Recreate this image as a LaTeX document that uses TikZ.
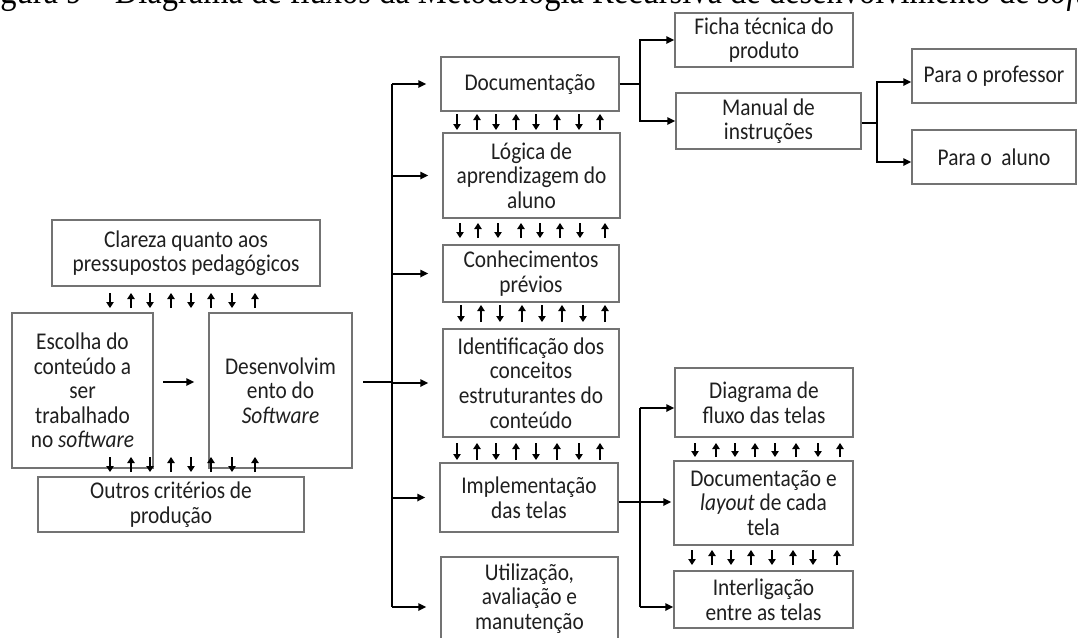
\documentclass[tikz,border=0pt]{standalone}
\usepackage{fontspec}
\setmainfont{Carlito}[FakeStretch=0.89]
\newfontfamily\capfont{Liberation Serif}[FakeStretch=0.87]
\usetikzlibrary{arrows.meta,calc}
\newcommand\arrowrow[3]{%
  \foreach \x [count=\i] in {#3} {%
    \ifodd\i \draw[tinyarrow] (\x,#1) -- (\x,#2); \else \draw[tinyarrow] (\x,#2) -- (\x,#1); \fi}}
\newcommand\bx[6]{%
  \node[box, minimum width={(#4-#2)*0.75pt}, minimum height={(#5-#3)*0.75pt}]
    (#1) at ({(#2+#4)/2},{(#3+#5)/2}) {#6};}
\begin{document}
\begin{tikzpicture}[x=0.75pt,y=-0.75pt,
  box/.style={draw=black!55, line width=1.1pt, inner sep=0pt, align=center,
    text=black!88, font=\fontsize{18}{18.4}\selectfont},
  conn/.style={line width=1.5pt, -{Triangle[length=6pt,width=5.5pt]}},
  plain/.style={line width=1.5pt},
  tinyarrow/.style={line width=1.5pt, -{Triangle[length=4.5pt,width=5.5pt]}}]
\useasboundingbox (0,0) rectangle (1078,637);
\clip (0,0) rectangle (1078,637);

% caption (cut off at the top)
\node[anchor=base west, inner sep=0pt, font=\capfont\fontsize{28}{30}\selectfont] (title) at (-27,3)
  {Figura 9 – Diagrama de fluxos da Metodologia Recursiva de desenvolvimento de \textit{software}};

% left group
\bx{clar}{52}{220}{320}{286}{Clareza quanto aos\\pressupostos pedagógicos}
\bx{esc}{12}{313}{153}{468}{Escolha do\\conteúdo a\\ser\\trabalhado\\no \textit{software}}
\bx{des}{209}{313}{352}{468}{Desenvolvim\\ento do\\\textit{Software}}
\bx{out}{38}{477}{304}{532}{Outros critérios de\\produção}

% middle column
\bx{doc}{441}{57}{619}{111}{Documentação}
\bx{log}{443}{133}{620}{218}{Lógica de\\aprendizagem do\\aluno}
\bx{con}{443}{245}{619}{302}{Conhecimentos\\prévios}
\bx{ide}{443}{329}{619}{437}{Identificação dos\\conceitos\\estruturantes do\\conteúdo}
\bx{imp}{440}{463}{618}{532}{Implementação\\das telas}
\bx{uti}{441}{557}{618}{640}{Utilização,\\avaliação e\\manutenção}

% right part
\bx{fic}{675}{13}{853}{67}{Ficha técnica do\\produto}
\bx{man}{676}{93}{861}{149}{Manual de\\instruções}
\bx{pro}{912}{49}{1076}{103}{Para o professor}
\bx{alu}{912}{130}{1076}{184}{Para o\ \ aluno}
\bx{dia}{675}{368}{853}{437}{Diagrama de\\fluxo das telas}
\bx{dl}{674}{461}{853}{545}{Documentação e\\\textit{layout} de cada\\tela}
\bx{int}{674}{571}{853}{628}{Interligação\\entre as telas}

% small two-way arrow rows
\arrowrow{293}{308}{110,131,150,171,191,211,232,255}
\arrowrow{457}{472}{110,131,150,171,191,211,232,255}
\arrowrow{114}{130}{457,477,496,516,536,557,579,600}
\arrowrow{223}{238}{460,478,498,521,540,560,580,605}
\arrowrow{305}{322}{461,481,500,522,542,562,583,605}
\arrowrow{443}{460}{457,477,496,516,536,557,579,600}
\arrowrow{443}{457}{695,716,735,755,775,796,818,840}
\arrowrow{550}{565}{692,712,731,751,772,793,813,837}

% left connectors
\coordinate (m) at (0,382);
\draw[conn, shorten <=7pt, shorten >=10.5pt] (esc.east |- m) -- (des.west |- m);
\coordinate (jL) at (392,84);
\coordinate (jLb) at (392,607);
\draw[plain] (jL) -- (jLb);
\draw[plain, shorten <=8pt] (des.east |- m) -- (jL |- m);
\foreach \n in {doc,log,con,ide,imp}
  \draw[conn, shorten >=10.5pt] (jL |- \n.west) -- (\n.west);
\draw[conn, shorten >=10.5pt] (jLb) -- (jLb -| uti.west);

% documentation branch
\coordinate (jD) at (640,84);
\draw[plain] (doc.east) -- (jD);
\draw[conn] (jD) |- (fic.west);
\draw[conn] (jD) |- (man.west);

% manual branch
\coordinate (jM) at (877,123);
\coordinate (pa) at (877,82);
\coordinate (pb) at (877,162);
\draw[plain] (man.east |- jM) -- (jM);
\draw[conn] (jM) -- (pa) -- (pa -| pro.west);
\draw[conn] (jM) -- (pb) -- (pb -| alu.west);

% implementation branch
\coordinate (jI) at (640,502);
\coordinate (ia) at (640,408);
\coordinate (ib) at (640,607);
\draw[conn, shorten >=1.5pt] (imp.east |- jI) -- (jI -| dl.west);
\draw[plain] (ia) -- (ib);
\draw[conn] (ia) -- (ia -| dia.west);
\draw[conn] (ib) -- (ib -| int.west);
\end{tikzpicture}
\end{document}
